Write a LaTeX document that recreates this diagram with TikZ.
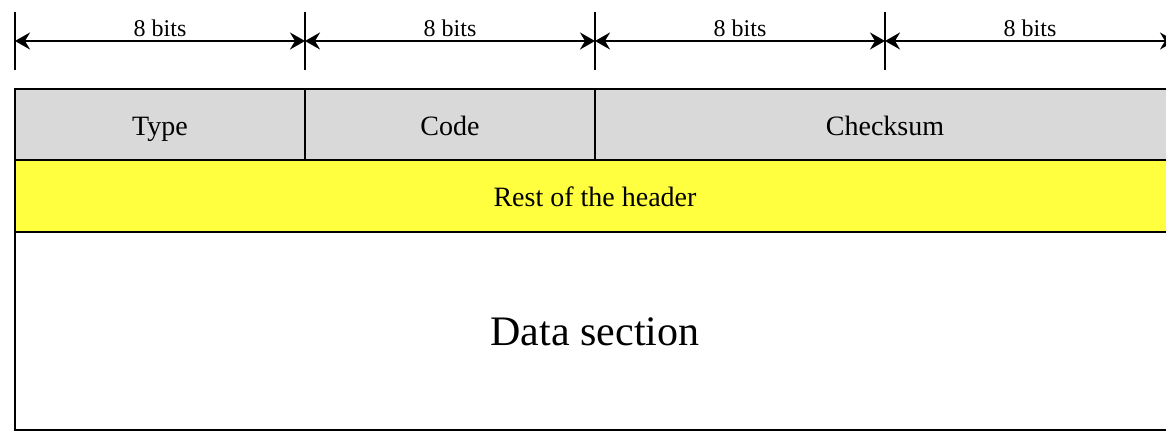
\documentclass[tikz,border=0pt]{standalone}
\usepackage{fontspec}
\setmainfont{Liberation Serif}
\usetikzlibrary{
  arrows.meta,
  positioning,
}
\definecolor{hdrgray}{HTML}{D9D9D9}
\definecolor{hdryellow}{HTML}{FFFF40}

\begin{document}
\begin{tikzpicture}%
\tikzstyle{field}=[rectangle,draw=black,line width=1pt,fill=hdrgray,inner sep=0pt,outer sep=0pt,minimum width=145pt,minimum height=35.5pt,text height=12pt,text depth=1pt,font=\fontsize{14}{16}\selectfont]
\tikzstyle{tick}=[line width=0.9pt]
\tikzstyle{dim}=[line width=0.9pt,{Stealth[length=7.5pt,width=8.5pt,inset=2.5pt]}-{Stealth[length=7.5pt,width=8.5pt,inset=2.5pt]}]
\useasboundingbox (0,0) rectangle (583pt,216pt);
\clip (0,0) rectangle (583pt,216pt);
\node[field,anchor=north west] (type) at (7.5pt,171.5pt) {Type};
\node[field] (code) [right=0pt of type] {Code};
\node[field,minimum width=290pt] (check) [right=0pt of code] {Checksum};
\node[field,fill=hdryellow,minimum width=580pt,minimum height=36pt,anchor=north west] (rest) at (type.south west) {Rest of the header};
\node[field,fill=white,minimum width=580pt,minimum height=99pt,anchor=north west,text height=18pt,text depth=3pt,font=\fontsize{21}{24}\selectfont] (data) at (rest.south west) {Data section};
\foreach \p [count=\i from 0] in {type.north west,code.north west,check.north west,check.north,check.north east} {
  \draw[tick] ([yshift=9.5pt]\p) -- ([yshift=38.5pt]\p);
  \coordinate (b\i) at ([yshift=24pt]\p);
}
\foreach \i/\j in {0/1,1/2,2/3,3/4}
  \draw[dim] (b\i) -- node[above,inner sep=1.5pt,font=\fontsize{12}{14}\selectfont] {8 bits} (b\j);
\end{tikzpicture}
\end{document}
